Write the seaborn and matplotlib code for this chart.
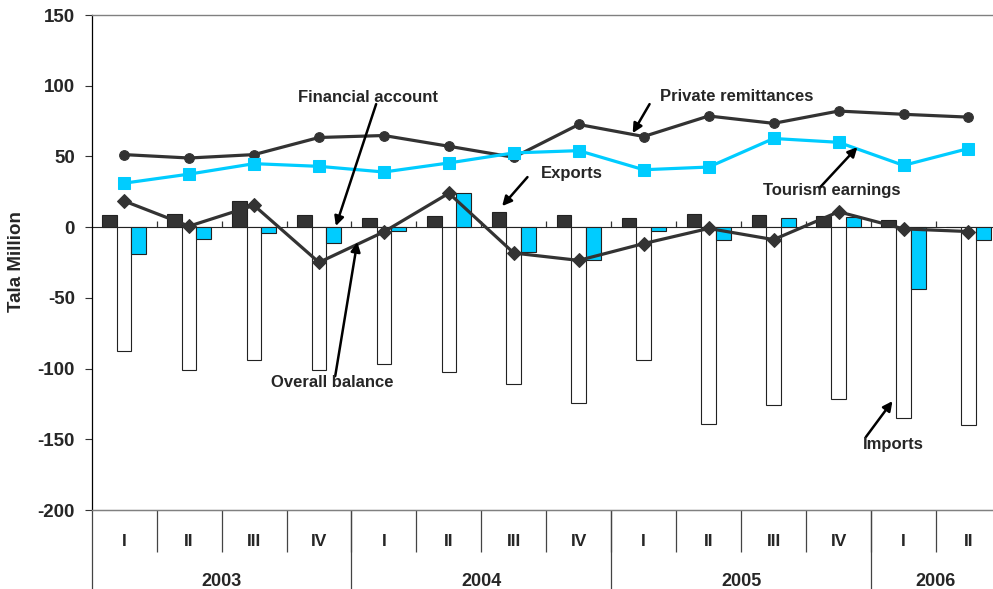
import numpy as np
import pandas as pd
import matplotlib
matplotlib.use("Agg")
import matplotlib.pyplot as plt
import seaborn as sns

# Quarterly balance-of-payments components, Tala million
periods = ["2003 I", "2003 II", "2003 III", "2003 IV",
           "2004 I", "2004 II", "2004 III", "2004 IV",
           "2005 I", "2005 II", "2005 III", "2005 IV",
           "2006 I", "2006 II"]
quarter_labels = ["I", "II", "III", "IV", "I", "II", "III", "IV",
                  "I", "II", "III", "IV", "I", "II"]
years = ["2003", "2004", "2005", "2006"]
quarters_per_year = [4, 4, 4, 2]

exports = [8.5, 9.3, 18.7, 8.5, 6.2, 7.6, 10.7, 8.5, 6.2, 9.3, 8.3, 8.1, 5.2, 0.0]
imports = [-87.6, -101.1, -94.2, -101.0, -96.6, -102.6, -110.9, -124.4,
           -94.2, -138.9, -125.8, -121.6, -135.1, -139.6]
financial_account = [-19.0, -8.3, -3.8, -11.2, -3.0, 24.0, -17.8, -23.0,
                     -2.4, -9.0, 6.6, 7.4, -43.7, -9.3]
private_remittances = [51.3, 48.9, 51.3, 63.4, 64.8, 57.2, 49.4, 72.6,
                       64.1, 78.6, 73.4, 82.1, 79.8, 77.8]
tourism_earnings = [31.1, 37.5, 44.9, 43.0, 39.0, 45.4, 52.5, 54.1,
                    40.6, 42.5, 62.7, 60.0, 43.7, 55.6]
overall_balance = [18.5, 0.7, 15.4, -24.9, -3.3, 24.0, -18.3, -23.5,
                   -11.6, -0.9, -8.8, 10.9, -1.2, -3.1]

bar_series = ["Exports", "Imports", "Financial account"]
bars = pd.DataFrame({
    "period": periods * 3,
    "series": sum([[s] * len(periods) for s in bar_series], []),
    "value": exports + imports + financial_account,
})

DARK = "#333333"
CYAN = "#00CCFF"

sns.set_style("white")
plt.rcParams["font.family"] = ["Liberation Sans", "DejaVu Sans"]
plt.rcParams["font.weight"] = "bold"
plt.rcParams["axes.unicode_minus"] = False

fig = plt.figure(figsize=(9.93, 5.89), dpi=100)
ax = fig.add_axes([0.0923, 0.1341, 0.9157, 0.8404])

sns.barplot(data=bars, x="period", y="value", hue="series",
            hue_order=bar_series, palette=[DARK, "white", CYAN],
            width=0.68, saturation=1, errorbar=None, legend=False,
            edgecolor="#222222", linewidth=0.8, ax=ax, zorder=2)

idx = np.arange(len(periods))
line_kw = dict(linewidth=2.3, ax=ax, zorder=4)
sns.lineplot(x=idx, y=private_remittances, color=DARK, marker="o",
             markersize=7, markeredgecolor=DARK, **line_kw)
sns.lineplot(x=idx, y=tourism_earnings, color=CYAN, marker="s",
             markersize=8, markeredgecolor=CYAN, **line_kw)
sns.lineplot(x=idx, y=overall_balance, color=DARK, marker="D",
             markersize=7, markeredgecolor=DARK, **line_kw)

ymin, ymax = -200, 150
ax.set_xlim(-0.5, len(periods) - 0.5)
ax.set_ylim(ymin, ymax)
ax.set_xlabel("")
ax.set_ylabel("")

# y axis
ax.set_yticks(np.arange(ymin, ymax + 1, 50))
ax.tick_params(axis="y", direction="out", length=5, width=0.8, pad=7,
               labelsize=13.5, left=True, color="#333333")
for lab in ax.get_yticklabels():
    lab.set_fontweight("bold")

ax.spines["right"].set_visible(False)
ax.spines["left"].set_color("black")
ax.spines["left"].set_linewidth(0.9)
ax.spines["top"].set_color("#808080")
ax.spines["bottom"].set_color("#808080")
for side in ["top", "bottom"]:
    ax.spines[side].set_linewidth(1.0)

# quarter row of the category axis
boundaries = np.arange(len(periods) - 1) + 0.5
ax.set_xticks(idx, labels=quarter_labels)
ax.set_xticks(boundaries, minor=True)
ax.tick_params(axis="x", which="major", length=0, pad=17, labelsize=12.5)
ax.tick_params(axis="x", which="minor", direction="out", length=30,
               width=0.9, color="#444444", bottom=True)
for lab in ax.get_xticklabels():
    lab.set_fontweight("bold")

# year row of the category axis
year_starts = np.concatenate([[0], np.cumsum(quarters_per_year)[:-1]])
year_centers = year_starts + np.array(quarters_per_year) / 2 - 0.5
year_axis = ax.secondary_xaxis("bottom")
year_axis.set_xticks(year_centers, labels=years)
year_axis.set_xticks(year_starts - 0.5, minor=True)
year_axis.tick_params(axis="x", which="major", length=0, pad=45, labelsize=13)
year_axis.tick_params(axis="x", which="minor", direction="out", length=62,
                      width=0.9, color="#444444")
year_axis.spines["bottom"].set_color("#808080")
for lab in year_axis.get_xticklabels():
    lab.set_fontweight("bold")

# category axis line crossing at zero
zero_axis = ax.secondary_xaxis((0 - ymin) / (ymax - ymin))
zero_axis.set_xticks(boundaries, labels=[])
zero_axis.tick_params(axis="x", direction="out", length=4, width=0.9,
                      color="#333333")
zero_axis.spines["bottom"].set_color("#111111")
zero_axis.spines["bottom"].set_linewidth(0.9)

fig.text(17 / 993, 1 - 262 / 589, "Tala Million", rotation=90,
         ha="center", va="center", fontsize=13.5, fontweight="bold")

# series call-outs
arrow = dict(arrowstyle="-|>", color="black", lw=1.8, mutation_scale=14,
             shrinkA=0, shrinkB=0)
callouts = [
    ("Financial account", (3.76, 92.0), (3.88, 87.0), (3.26, 0.8)),
    ("Private remittances", (9.43, 92.7), (8.09, 87.0), (7.83, 66.5)),
    ("Exports", (6.89, 37.6), (6.21, 35.4), (5.82, 14.9)),
    ("Tourism earnings", (10.89, 26.2), (10.72, 28.4), (11.29, 56.6)),
    ("Overall balance", (3.20, -109.5), (3.25, -105.3), (3.59, -10.5)),
    ("Imports", (11.85, -154.0), (11.42, -148.4), (11.83, -123.0)),
]
for text, pos, tail, tip in callouts:
    ax.annotate("", xy=tip, xytext=tail, arrowprops=arrow, zorder=6)
    ax.text(pos[0], pos[1], text, ha="center", va="center", fontsize=12,
            fontweight="bold", zorder=7)

fig.savefig("out.png", dpi=100)
